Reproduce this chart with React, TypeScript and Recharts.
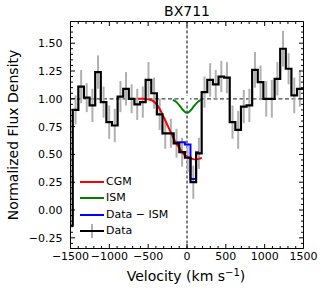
import React from "react"
import {
  ComposedChart,
  Line,
  XAxis,
  YAxis,
  ReferenceLine,
  ErrorBar,
  Legend,
} from "recharts"

// binned spectrum (bin centres in km/s)
const velocity = [
  -1507, -1435, -1363, -1291, -1218, -1146, -1074, -1002, -930, -857, -785,
  -713, -641, -569, -496, -424, -352, -280, -208, -135, -63, 9, 81, 153, 225,
  298, 370, 442, 514, 586, 659, 731, 803, 875, 947, 1020, 1092, 1164, 1236,
  1308, 1381, 1453, 1525,
]
const flux = [
  -0.14, 0.9, 1.11, 1.01, 0.94, 1.24, 0.97, 0.79, 0.76, 1.02, 1.09, 1.0, 0.95,
  0.97, 1.17, 1.05, 0.86, 0.69, 0.69, 0.6, 0.52, 0.47, 0.25, 0.51, 1.06, 1.17,
  1.13, 1.2, 1.19, 0.79, 0.72, 0.93, 0.94, 1.26, 1.15, 1.0, 1.0, 1.18, 1.45,
  1.27, 1.03, 1.09, 1.09,
]
const fluxErr = [
  0, 0.13, 0.15, 0.13, 0.15, 0.15, 0.14, 0.15, 0.15, 0.14, 0.15, 0.13, 0.14,
  0.14, 0.16, 0.14, 0.14, 0.14, 0.13, 0.13, 0.13, 0.13, 0.15, 0.14, 0.14, 0.15,
  0.13, 0.14, 0.14, 0.15, 0.17, 0.15, 0.15, 0.16, 0.15, 0.16, 0.17, 0.15, 0.16,
  0.14, 0.16, 0.16, 0,
]

// data - ISM (only where the ISM model matters)
const subVelocity = [-135, -63, 9, 81, 153]
const subFlux = [0.61, 0.61, 0.59, 0.28, 0.52]

// CGM model
const cgmVelocity = [
  -630, -560, -500, -450, -410, -370, -330, -290, -250, -210, -170, -130, -90,
  -50, -10, 30, 70, 110, 150, 190,
]
const cgmFlux = [
  1.0, 1.0, 0.995, 0.985, 0.965, 0.93, 0.88, 0.82, 0.76, 0.7, 0.64, 0.59, 0.55,
  0.51, 0.485, 0.47, 0.46, 0.455, 0.46, 0.47,
]

// ISM model
const ismVelocity = [-180, -150, -120, -90, -60, -30, 0, 30, 60, 90, 120, 150, 180]
const ismFlux = [
  0.99, 0.978, 0.959, 0.934, 0.906, 0.884, 0.875, 0.884, 0.906, 0.934, 0.959,
  0.978, 0.99,
]

const xMajorTicks = [-1500, -1000, -500, 0, 500, 1000, 1500]
const yMajorTicks = [-0.25, 0, 0.25, 0.5, 0.75, 1, 1.25, 1.5]

const X_DOMAIN = [-1500, 1500]
const Y_DOMAIN = [-0.346, 1.695]
const FONT = "DejaVu Sans, sans-serif"

const xMinorTicks: number[] = []
for (let v = -1500; v <= 1500; v += 100) xMinorTicks.push(v)
const yMinorTicks: number[] = []
for (let i = -6; i <= 33; i++) yMinorTicks.push(Math.round(i * 5) / 100)

const dataPts = velocity.map((v, i) => ({ v, f: flux[i], e: fluxErr[i] }))
const subPts = subVelocity.map((v, i) => ({ v, f: subFlux[i] }))
const cgmPts = cgmVelocity.map((v, i) => ({ v, f: cgmFlux[i] }))
const ismPts = ismVelocity.map((v, i) => ({ v, f: ismFlux[i] }))

const isMajor = (v: number, list: number[]) =>
  list.some((t) => Math.abs(t - v) < 1e-6)
const minus = (s: string) => s.replace("-", "\u2212")

const BottomTick = (props: any) => {
  const { x, y, payload } = props
  const major = isMajor(payload.value, xMajorTicks)
  return (
    <g>
      <line x1={x} x2={x} y1={y} y2={y - (major ? 4.5 : 2.5)} stroke="#000" />
      {major && (
        <text x={x} y={y + 11.5} textAnchor="middle" fontSize={11} fontFamily={FONT} fill="#000">
          {minus(String(payload.value))}
        </text>
      )}
    </g>
  )
}

const TopTick = (props: any) => {
  const { x, y, payload } = props
  const major = isMajor(payload.value, xMajorTicks)
  return <line x1={x} x2={x} y1={y} y2={y + (major ? 4.5 : 2.5)} stroke="#000" />
}

const LeftTick = (props: any) => {
  const { x, y, payload } = props
  const major = isMajor(payload.value, yMajorTicks)
  return (
    <g>
      <line x1={x} x2={x + (major ? 4.5 : 2.5)} y1={y} y2={y} stroke="#000" />
      {major && (
        <text x={x - 8} y={y + 4} textAnchor="end" fontSize={11} fontFamily={FONT} fill="#000">
          {minus(payload.value.toFixed(2))}
        </text>
      )}
    </g>
  )
}

const RightTick = (props: any) => {
  const { x, y, payload } = props
  const major = isMajor(payload.value, yMajorTicks)
  return <line x1={x} x2={x - (major ? 4.5 : 2.5)} y1={y} y2={y} stroke="#000" />
}

const legendItems = [
  { label: "CGM", color: "#ff0000" },
  { label: "ISM", color: "#008000" },
  { label: "Data \u2212 ISM", color: "#0000ff" },
  { label: "Data", color: "#000000", err: true },
]

const LegendBox = () => (
  <div style={{ fontFamily: FONT, fontSize: 11 }}>
    {legendItems.map((it) => (
      <div key={it.label} style={{ display: "flex", alignItems: "center", height: 16.3 }}>
        <svg width={24} height={16} style={{ display: "block" }}>
          {it.err && <line x1={12} x2={12} y1={1} y2={15} stroke="#b0b0b0" strokeWidth={2} />}
          <line x1={0} x2={24} y1={8} y2={8} stroke={it.color} strokeWidth={2} />
        </svg>
        <span style={{ marginLeft: 2, lineHeight: "16px" }}>{it.label}</span>
      </div>
    ))}
  </div>
)

export default function App() {
  return (
    <div style={{ position: "absolute", left: 0, top: 0, width: 324, height: 293 }}>
      <ComposedChart
        width={324}
        height={293}
        margin={{ top: 20.5, right: 19.5, bottom: 0.5, left: 0.5 }}
      >
        <XAxis
          xAxisId={0}
          dataKey="v"
          type="number"
          domain={X_DOMAIN}
          allowDataOverflow
          ticks={xMinorTicks}
          interval={0}
          height={44}
          tickSize={0}
          tickMargin={0}
          tickLine={false}
          tick={<BottomTick />}
          axisLine={{ stroke: "#000" }}
        />
        <XAxis
          xAxisId="top"
          orientation="top"
          dataKey="v"
          type="number"
          domain={X_DOMAIN}
          allowDataOverflow
          ticks={xMinorTicks}
          interval={0}
          height={1}
          tickSize={0}
          tickMargin={0}
          tickLine={false}
          tick={<TopTick />}
          axisLine={{ stroke: "#000" }}
        />
        <YAxis
          yAxisId={0}
          type="number"
          domain={Y_DOMAIN}
          allowDataOverflow
          ticks={yMinorTicks}
          interval={0}
          width={70}
          tickSize={0}
          tickMargin={0}
          tickLine={false}
          tick={<LeftTick />}
          axisLine={{ stroke: "#000" }}
        />
        <YAxis
          yAxisId="right"
          orientation="right"
          type="number"
          domain={Y_DOMAIN}
          allowDataOverflow
          ticks={yMinorTicks}
          interval={0}
          width={1}
          tickSize={0}
          tickMargin={0}
          tickLine={false}
          tick={<RightTick />}
          axisLine={{ stroke: "#000" }}
        />
        <ReferenceLine y={1} stroke="#444" strokeDasharray="4 2.5" strokeWidth={1.2} />
        <ReferenceLine x={0} stroke="#000" strokeDasharray="3 2" strokeWidth={1} />
        <Line
          data={dataPts}
          dataKey="f"
          stroke="none"
          dot={false}
          activeDot={false}
          legendType="none"
          isAnimationActive={false}
        >
          <ErrorBar dataKey="e" width={0} stroke="#b0b0b0" strokeWidth={2} direction="y" isAnimationActive={false} />
        </Line>
        <Line
          data={cgmPts}
          dataKey="f"
          type="monotone"
          stroke="#ff0000"
          strokeWidth={2}
          dot={false}
          activeDot={false}
          isAnimationActive={false}
        />
        <Line
          data={ismPts}
          dataKey="f"
          type="monotone"
          stroke="#008000"
          strokeWidth={2}
          dot={false}
          activeDot={false}
          isAnimationActive={false}
        />
        <Line
          data={subPts}
          dataKey="f"
          type="step"
          stroke="#0000ff"
          strokeWidth={2}
          dot={false}
          activeDot={false}
          isAnimationActive={false}
        />
        <Line
          data={dataPts}
          dataKey="f"
          type="step"
          stroke="#000"
          strokeWidth={2.2}
          dot={false}
          activeDot={false}
          isAnimationActive={false}
        />
        <Line
          data={[{ v: 0, f: 1 }]}
          xAxisId="top"
          yAxisId="right"
          dataKey="f"
          stroke="none"
          dot={false}
          activeDot={false}
          legendType="none"
          isAnimationActive={false}
        />
        <Legend
          layout="vertical"
          align="center"
          verticalAlign="middle"
          content={<LegendBox />}
          wrapperStyle={{ left: 80, top: 173.8, width: "auto", height: "auto" }}
        />
      </ComposedChart>
      <svg
        width={324}
        height={293}
        style={{ position: "absolute", left: 0, top: 0, pointerEvents: "none" }}
        fontFamily={FONT}
      >
        <text x={187} y={15.5} textAnchor="middle" fontSize={14}>
          BX711
        </text>
        <text x={186} y={281} textAnchor="middle" fontSize={14}>
          Velocity (km s
          <tspan fontSize={10} dy={-5.5}>
            {"\u22121"}
          </tspan>
          <tspan dy={5.5}>)</tspan>
        </text>
        <text
          transform="translate(18,135) rotate(-90)"
          textAnchor="middle"
          fontSize={14}
        >
          Normalized Flux Density
        </text>
      </svg>
    </div>
  )
}
